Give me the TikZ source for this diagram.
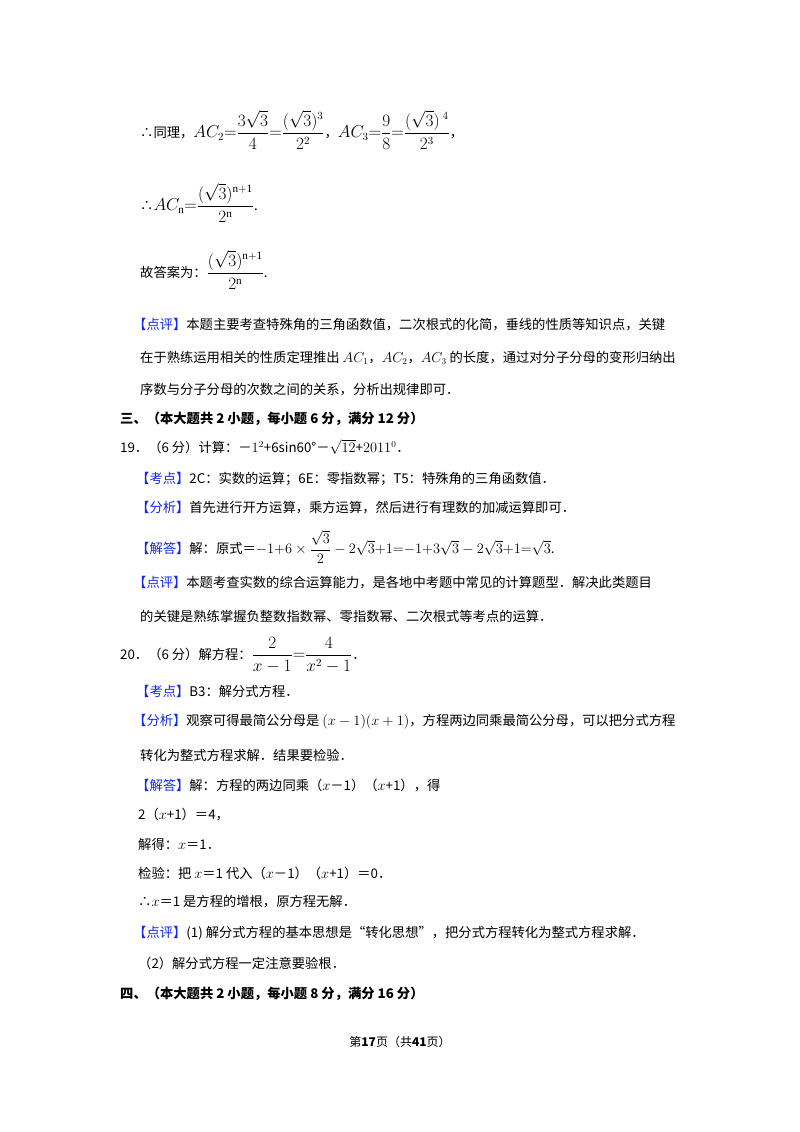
\documentclass[tikz,border=0pt]{standalone}
\usepackage{amsmath}
\usepackage{fontspec}
\setmainfont{Liberation Serif}
\newfontfamily\cjk{Noto Sans CJK SC}
\definecolor{blu}{RGB}{20,40,230}
\newcommand\kd[1]{{\color{blu}【#1】}}
\newcommand\bm[1]{{\fontsize{16}{18}\selectfont$#1$}}
\newcommand\sm[1]{{\fontsize{14.5}{16}\selectfont$#1$}}
\begin{document}
\begin{tikzpicture}[x=1pt,y=-1pt,
  ln/.style={anchor=west,inner sep=0pt,font=\cjk\fontsize{13.3}{16}\selectfont}]
\useasboundingbox (0,0) rectangle (800,1132);
\fill[white] (0,0) rectangle (800,1132);
\node[ln] (l1) at (140,130) {∴同理，\bm{AC_2{=}\dfrac{3\sqrt{3}}{4}{=}\dfrac{(\sqrt{3})^{3}}{2^{2}}}，\bm{AC_3{=}\dfrac{9}{8}{=}\dfrac{(\sqrt{3})^{\;4}}{2^{3}}}，};
\node[ln] (l2) at (140,203) {∴\bm{AC_{\mathrm{n}}{=}\dfrac{(\sqrt{3})^{\mathrm{n+1}}}{2^{\mathrm{n}}}}.};
\node[ln] (l3) at (140,270) {故答案为：\bm{\dfrac{(\sqrt{3})^{\mathrm{n+1}}}{2^{\mathrm{n}}}}.};
\node[ln] (l4) at (133,325) {\kd{点评}本题主要考查特殊角的三角函数值，二次根式的化简，垂线的性质等知识点，关键};
\node[ln] (l5) at (140,358) {在于熟练运用相关的性质定理推出 $AC_1$，$AC_2$，$AC_3$ 的长度，通过对分子分母的变形归纳出};
\node[ln] (l6) at (140,390) {序数与分子分母的次数之间的关系，分析出规律即可．};
\node[ln,font=\cjk\bfseries\fontsize{13.3}{16}\selectfont] (h3) at (120,419) {三、（本大题共 2 小题，每小题 6 分，满分 12 分）};
\node[ln] (q19) at (120,447) {19．（6 分）计算：－$1^2$+6sin60°－$\sqrt{12}$+$2011^0$．};
\node[ln] (a1) at (136,479) {\kd{考点}2C：实数的运算；6E：零指数幂；T5：特殊角的三角函数值．};
\node[ln] (a2) at (136,508) {\kd{分析}首先进行开方运算，乘方运算，然后进行有理数的加减运算即可．};
\node[ln] (a3) at (136,547) {\kd{解答}解：原式＝\sm{-1{+}6\times\dfrac{\sqrt{3}}{2}-2\sqrt{3}{+}1{=}{-}1{+}3\sqrt{3}-2\sqrt{3}{+}1{=}\sqrt{3}}.};
\node[ln] (a4) at (133,583) {\kd{点评}本题考查实数的综合运算能力，是各地中考题中常见的计算题型．解决此类题目};
\node[ln] (a5) at (140,616) {的关键是熟练掌握负整数指数幂、零指数幂、二次根式等考点的运算．};
\node[ln] (q20) at (120,655) {20．（6 分）解方程：\bm{\dfrac{2}{x-1}{=}\dfrac{4}{x^{2}-1}}．};
\node[ln] (b1) at (136,691) {\kd{考点}B3：解分式方程．};
\node[ln] (b2) at (133,722) {\kd{分析}观察可得最简公分母是 $(x-1)(x+1)$，方程两边同乘最简公分母，可以把分式方程};
\node[ln] (b3) at (140,755) {转化为整式方程求解．结果要检验．};
\node[ln] (b4) at (136,786) {\kd{解答}解：方程的两边同乘（$x$－1）（$x$+1），得};
\node[ln] (b5) at (138,815) {2（$x$+1）＝4，};
\node[ln] (b6) at (138,844) {解得：$x$＝1．};
\node[ln] (b7) at (138,873) {检验：把 $x$＝1 代入（$x$－1）（$x$+1）＝0．};
\node[ln] (b8) at (138,902) {∴$x$＝1 是方程的增根，原方程无解．};
\node[ln] (b9) at (133,933) {\kd{点评}(1) 解分式方程的基本思想是“转化思想”，把分式方程转化为整式方程求解．};
\node[ln] (b10) at (138,963) {（2）解分式方程一定注意要验根．};
\node[ln,font=\cjk\bfseries\fontsize{13.3}{16}\selectfont] (h4) at (120,994) {四、（本大题共 2 小题，每小题 8 分，满分 16 分）};
\node[anchor=center,inner sep=0pt,font=\cjk\fontsize{12}{14}\selectfont] (ft) at (400,1042) {第\textbf{17}页（共\textbf{41}页）};
\end{tikzpicture}
\end{document}
